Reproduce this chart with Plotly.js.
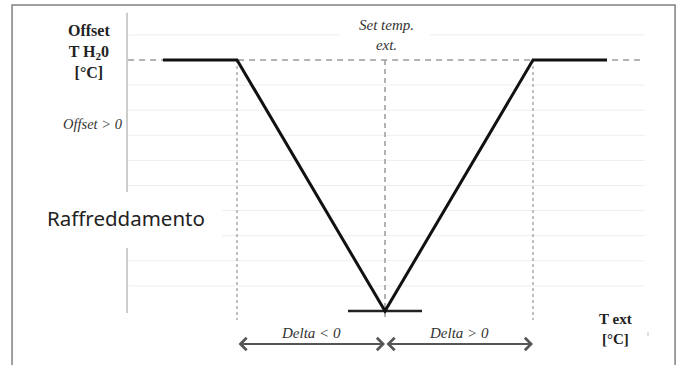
<!DOCTYPE html>
<html>
<head>
<meta charset="utf-8">
<script src="https://cdn.plot.ly/plotly-3.0.1.min.js"></script>
<style>
    html, body { margin: 0; padding: 0; background: #fff; }
    #chart-offset { width: 683px; height: 365px; }
</style>
</head>
<body>
<div class="chart" id="chart-offset"></div>
<script type="text/javascript">
    // x = delta from set temp ext (units), y = offset level
    var curveX = [-1.5, -1, 0, 1, 1.5];
    var curveY = [10, 10, 0, 10, 10];
    var baseX = [-0.25, 0.25];
    var baseY = [0, 0];
    var markX = [-1, 0, 1];
    var offsetLevel = 10;
    var gridLevels = [1, 2, 3, 4, 5, 6, 7, 8, 9, 11];

    document.addEventListener('DOMContentLoaded', function () {
        var serif = 'Liberation Serif, DejaVu Serif, serif';
        var gx0 = -1.736, gx1 = 1.757;
        var vBottom = -0.36;

        var traces = [];

        // vertical markers: dotted at the breakpoints, dashed at set temp
        markX.forEach(function (x) {
            traces.push({
                x: [x, x],
                y: [offsetLevel, vBottom],
                mode: 'lines',
                line: {color: x === 0 ? '#9a9a9a' : '#aaaaaa', width: 1.5, dash: x === 0 ? '5px,4px' : 'dot'},
                hoverinfo: 'skip',
            });
        });

        // offset reference line
        traces.push({
            x: [gx0, gx1],
            y: [offsetLevel, offsetLevel],
            mode: 'lines',
            line: {color: '#9a9a9a', width: 1.5, dash: '6px,5px'},
            hoverinfo: 'skip',
        });

        traces.push({
            x: baseX,
            y: baseY,
            mode: 'lines',
            line: {color: '#222', width: 2.5},
            hoverinfo: 'skip',
        });

        traces.push({
            x: curveX,
            y: curveY,
            mode: 'lines',
            line: {color: '#111', width: 3},
            hoverinfo: 'skip',
        });

        var shapes = [];
        gridLevels.forEach(function (g) {
            shapes.push({
                type: 'line', layer: 'below', xref: 'x', yref: 'y',
                x0: gx0, x1: gx1, y0: g, y1: g,
                line: {color: '#eeeeee', width: 1},
            });
        });
        // y axis line
        shapes.push({
            type: 'line', layer: 'below', xref: 'x', yref: 'y',
            x0: -1.743, x1: -1.743, y0: -0.08, y1: 11.88,
            line: {color: '#cccccc', width: 2},
        });
        // white boxes behind the labels
        shapes.push({
            type: 'rect', layer: 'below', xref: 'x', yref: 'y',
            x0: -2.4, x1: -1.1, y0: 2.51, y1: 4.74,
            fillcolor: '#ffffff', line: {width: 0},
        });
        shapes.push({
            type: 'rect', layer: 'below', xref: 'x', yref: 'y',
            x0: -0.304, x1: 0.304, y0: 10.8, y1: 11.2,
            fillcolor: '#ffffff', line: {width: 0},
        });
        // outer frame
        shapes.push({
            type: 'rect', layer: 'above', xref: 'x', yref: 'y',
            x0: -2.52, x1: 1.96, y0: -3, y1: 12.19,
            line: {color: '#808080', width: 1.5},
        });
        // small tick near the x label
        shapes.push({
            type: 'line', layer: 'above', xref: 'x', yref: 'y',
            x0: 1.777, x1: 1.777, y0: -0.85, y1: -1.0,
            line: {color: '#bbbbbb', width: 1},
        });

        var annotations = [
            {
                x: -2.0, y: 10.32, xref: 'x', yref: 'y', showarrow: false,
                text: '<b>Offset<br>T H<sub>2</sub>0<br>[°C]</b>',
                font: {family: serif, size: 16, color: '#222'},
            },
            {
                x: -1.97, y: 7.45, xref: 'x', yref: 'y', showarrow: false,
                text: '<i>Offset > 0</i>',
                font: {family: serif, size: 14.5, color: '#333'},
            },
            {
                x: -1.75, y: 3.7, xref: 'x', yref: 'y', showarrow: false,
                text: 'Raffreddamento',
                font: {family: 'Noto Sans, sans-serif', size: 20.5, color: '#222'},
            },
            {
                x: 0.007, y: 10.98, xref: 'x', yref: 'y', showarrow: false,
                text: '<i>Set temp.<br>ext.</i>',
                font: {family: serif, size: 15, color: '#333'},
            },
            {
                x: 1.56, y: -0.7, xref: 'x', yref: 'y', showarrow: false,
                text: '<b>T ext<br>[°C]</b>',
                font: {family: serif, size: 15, color: '#222'},
            },
            {
                x: -0.5, y: -0.876, xref: 'x', yref: 'y', showarrow: false,
                text: '<i>Delta < 0</i>',
                font: {family: serif, size: 15, color: '#333'},
            },
            {
                x: 0.5, y: -0.876, xref: 'x', yref: 'y', showarrow: false,
                text: '<i>Delta > 0</i>',
                font: {family: serif, size: 15, color: '#333'},
            },
        ];
        [[-1, 0], [0, 1]].forEach(function (seg) {
            annotations.push({
                x: seg[1], y: -1.315, ax: seg[0], ay: -1.315,
                xref: 'x', yref: 'y', axref: 'x', ayref: 'y',
                text: '', showarrow: true,
                arrowside: 'end+start', arrowhead: 4, startarrowhead: 4,
                arrowsize: 1.2, startarrowsize: 1.2,
                arrowwidth: 2, arrowcolor: '#555', standoff: 0, startstandoff: 0,
            });
        });

        var layout = {
            width: 683,
            height: 365,
            margin: {l: 0, r: 0, t: 0, b: 0},
            paper_bgcolor: '#ffffff',
            plot_bgcolor: '#ffffff',
            showlegend: false,
            xaxis: {
                range: [-2.6014, 2.0135],
                visible: false,
                fixedrange: true,
            },
            yaxis: {
                range: [-2.151, 12.39],
                visible: false,
                fixedrange: true,
            },
            shapes: shapes,
            annotations: annotations,
        };

        Plotly.newPlot(document.getElementById('chart-offset'), traces, layout, {displayModeBar: false, staticPlot: true});
    });
</script>
</body>
</html>
